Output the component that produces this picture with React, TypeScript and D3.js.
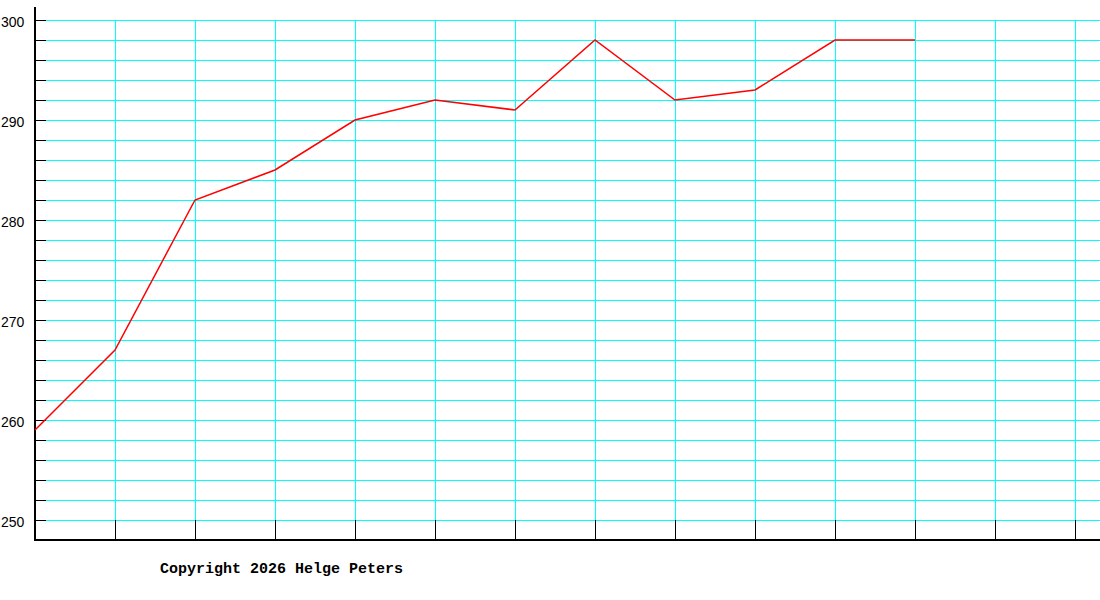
import React from "react";
import * as d3 from "d3";

const xLabels: number[] = [0, 1, 2, 3, 4, 5, 6, 7, 8, 9, 10, 11, 12, 13];
const values: number[] = [259, 267, 282, 285, 290, 292, 291, 298, 292, 293, 298, 298];
const yTicks: number[] = d3.range(250, 301, 2);
const yLabels: number[] = [250, 260, 270, 280, 290, 300];
const copyright = "Copyright 2026 Helge Peters";

export default function App() {
  const W = 1100;
  const H = 600;
  const x = d3.scaleLinear().domain([0, 13]).range([35, 1075]);
  const y = d3.scaleLinear().domain([248, 300]).range([540, 20]);
  const line = d3
    .line<number>()
    .x((_, i) => x(i))
    .y((d) => y(d));

  return (
    <svg
      width={W}
      height={H}
      style={{ position: "absolute", left: 0, top: 0, display: "block", background: "#fff" }}
    >
      <rect x={0} y={0} width={W} height={H} fill="#fff" />
      {/* horizontal grid */}
      {yTicks.map((t) => (
        <g key={"h" + t} shapeRendering="crispEdges">
          <line x1={46} x2={W} y1={y(t) + 0.5} y2={y(t) + 0.5} stroke="#00ffff" strokeWidth={1} />
          <line x1={35} x2={46} y1={y(t) + 0.5} y2={y(t) + 0.5} stroke="#000" strokeWidth={1} />
        </g>
      ))}
      {/* vertical grid */}
      {xLabels.slice(1).map((i) => (
        <g key={"v" + i} shapeRendering="crispEdges">
          <line x1={x(i) + 0.5} x2={x(i) + 0.5} y1={y(300)} y2={y(250)} stroke="#00ffff" strokeWidth={1} />
          <line x1={x(i) + 0.5} x2={x(i) + 0.5} y1={y(250)} y2={y(248)} stroke="#000" strokeWidth={1} />
        </g>
      ))}
      {/* axes */}
      <line x1={x(0)} x2={x(0)} y1={7} y2={541} stroke="#000" strokeWidth={2} shapeRendering="crispEdges" />
      <line x1={34} x2={W} y1={y(248)} y2={y(248)} stroke="#000" strokeWidth={2} shapeRendering="crispEdges" />
      {/* y labels */}
      {yLabels.map((t) => (
        <text
          key={"l" + t}
          x={1}
          y={y(t) + 7}
          fontFamily="Liberation Sans, Arial, sans-serif"
          fontSize={14}
          fill="#000"
        >
          {t}
        </text>
      ))}
      {/* data line */}
      <path d={line(values) || ""} fill="none" stroke="#ff0000" strokeWidth={1.5} />
      <text
        x={160}
        y={573}
        fontFamily="Liberation Mono, Courier New, monospace"
        fontWeight="bold"
        fontSize={15}
        fill="#000"
      >
        {copyright}
      </text>
    </svg>
  );
}
